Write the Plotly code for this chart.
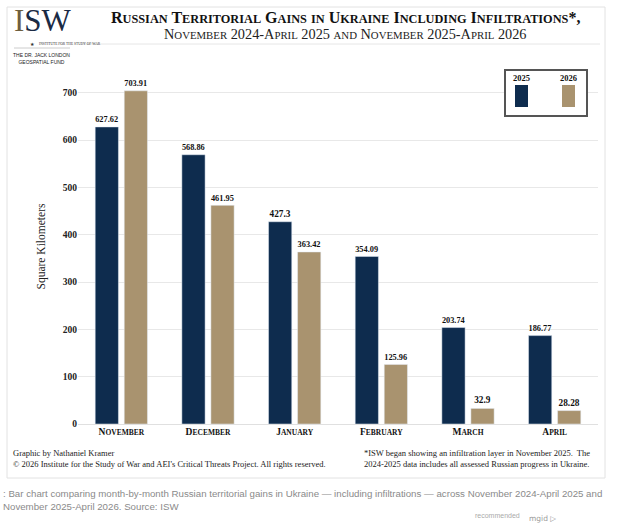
import plotly.graph_objects as go

months = ["November", "December", "January", "February", "March", "April"]
series_names = ["2025", "2026"]
vals_2025 = [627.62, 568.86, 427.3, 354.09, 203.74, 186.77]
vals_2026 = [703.91, 461.95, 363.42, 125.96, 32.9, 28.28]
y_ticks = [0, 100, 200, 300, 400, 500, 600, 700]

NAVY = "#0e2c4e"
TAN = "#a9936f"
SERIF = "Liberation Serif"

W, H = 638, 524
ML, MR, MT, MB = 78, 40, 69, 100
PW, PH = W - ML - MR, H - MT - MB


def px(x):
    return (x - ML) / PW


def py(y):
    return (H - MB - y) / PH


def sc(text, big, small):
    out = []
    cur_small = None
    buf = ""
    for ch in text:
        is_small = ch.islower()
        if cur_small is None:
            cur_small = is_small
        if is_small != cur_small:
            out.append((cur_small, buf))
            buf = ""
            cur_small = is_small
        buf += ch.upper()
    if buf:
        out.append((cur_small, buf))
    return "".join(
        f"<span style='font-size:{small if s else big}px'>{b}</span>" for s, b in out
    )


fig = go.Figure()
fig.add_trace(go.Bar(
    x=months, y=vals_2025, name=series_names[0], marker_color=NAVY,
    text=[f"<b>{v:g}</b>" for v in vals_2025], textposition="outside",
    textfont=dict(family=SERIF, size=9.3, color="#111"), cliponaxis=False,
))
fig.add_trace(go.Bar(
    x=months, y=vals_2026, name=series_names[1], marker_color=TAN,
    text=[f"<b>{v:g}</b>" for v in vals_2026], textposition="outside",
    textfont=dict(family=SERIF, size=9.3, color="#111"), cliponaxis=False,
))

shapes = [
    dict(type="rect", xref="paper", yref="paper", x0=px(7), x1=px(605), y0=py(7), y1=py(478),
         line=dict(color="#e2e2e2", width=1), fillcolor="rgba(0,0,0,0)", layer="below"),
    dict(type="line", xref="paper", yref="paper", x0=px(82), x1=px(600), y0=py(44), y1=py(44),
         line=dict(color="#e6e6e6", width=1)),
    dict(type="line", xref="paper", yref="paper", x0=px(14), x1=px(70), y0=py(48), y1=py(48),
         line=dict(color="#cccccc", width=1)),
    dict(type="rect", xref="paper", yref="paper", x0=px(505), x1=px(587), y0=py(70), y1=py(116),
         line=dict(color="#555555", width=2), fillcolor="white", layer="above"),
    dict(type="rect", xref="paper", yref="paper", x0=px(515), x1=px(528), y0=py(85), y1=py(107),
         line=dict(width=0), fillcolor=NAVY, layer="above"),
    dict(type="rect", xref="paper", yref="paper", x0=px(562), x1=px(575), y0=py(85), y1=py(107),
         line=dict(width=0), fillcolor=TAN, layer="above"),
]

ann = []


def A(text, x, y, size, color="#111", family=SERIF, xanchor="left", yanchor="middle", align="left"):
    ann.append(dict(text=text, x=px(x), y=py(y), xref="paper", yref="paper", showarrow=False,
                    font=dict(family=family, size=size, color=color), xanchor=xanchor,
                    yanchor=yanchor, align=align, borderpad=0))


# title
A("<b>" + sc("Russian Territorial Gains in Ukraine Including Infiltrations*,", 16, 12.3) + "</b>",
  345, 18, 16, xanchor="center")
A(sc("November 2024-April 2025 and November 2025-April 2026", 14.3, 10.8), 345, 34, 14.3,
  color="#222", xanchor="center")
# logo
A("<span style='color:#6e5e3e'>I</span>SW", 13, 21, 31, color="#1a2a44", family="Liberation Serif")
A("★", 36, 44, 5, color="#333", family="DejaVu Sans", xanchor="right")
A("INSTITUTE FOR THE STUDY OF WAR", 38, 44, 3.6, color="#333", family="Liberation Serif")
A("THE DR. JACK LONDON<br>GEOSPATIAL FUND", 41, 58, 5, color="#222", family="Liberation Sans",
  xanchor="center", align="center")
# legend labels
A("<b>2025</b>", 521, 78, 8.5, xanchor="center")
A("<b>2026</b>", 568, 78, 8.5, xanchor="center")
# footer
A("Graphic by Nathaniel Kramer<br>© 2026 Institute for the Study of War and AEI's Critical Threats Project. All rights reserved.",
  12, 458, 8.5, color="#222")
A("*ISW began showing an infiltration layer in November 2025.  The<br>2024-2025 data includes all assessed Russian progress in Ukraine.",
  363, 458, 8.5, color="#222")
# page caption
A(": Bar chart comparing month-by-month Russian territorial gains in Ukraine — including infiltrations — across November 2024-April 2025 and<br>November 2025-April 2026. Source: ISW",
  2, 500, 9.7, color="#8a8a8a", family="Liberation Sans")
A("recommended", 474, 515, 7, color="#aaa", family="Liberation Sans")
A("mgid ▷", 528, 518, 7.5, color="#999", family="DejaVu Sans")

fig.update_layout(
    width=W, height=H,
    margin=dict(l=ML, r=MR, t=MT, b=MB),
    paper_bgcolor="white", plot_bgcolor="white",
    barmode="group", bargap=0.33, bargroupgap=0.2,
    showlegend=False,
    shapes=shapes, annotations=ann,
    xaxis=dict(
        tickvals=months,
        ticktext=["<b>" + sc(m, 9.5, 7.5) + "</b>" for m in months],
        tickfont=dict(family=SERIF, size=9.5, color="#111"),
        showgrid=False, showline=False, ticks="",
    ),
    yaxis=dict(
        range=[0, 750], tickvals=y_ticks,
        tickfont=dict(family=SERIF, size=9.5, color="#222"),
        ticktext=[f"<b>{t}</b>" for t in y_ticks],
        showgrid=True, gridcolor="#e8e8e8", gridwidth=1,
        zeroline=True, zerolinecolor="#e0e0e0", zerolinewidth=1,
        title=dict(text="Square Kilometers", font=dict(family=SERIF, size=11.5, color="#222"),
                   standoff=14),
    ),
)

fig.write_html("out.html", config={"displayModeBar": False},
               post_script="document.body.style.margin='0px';")
